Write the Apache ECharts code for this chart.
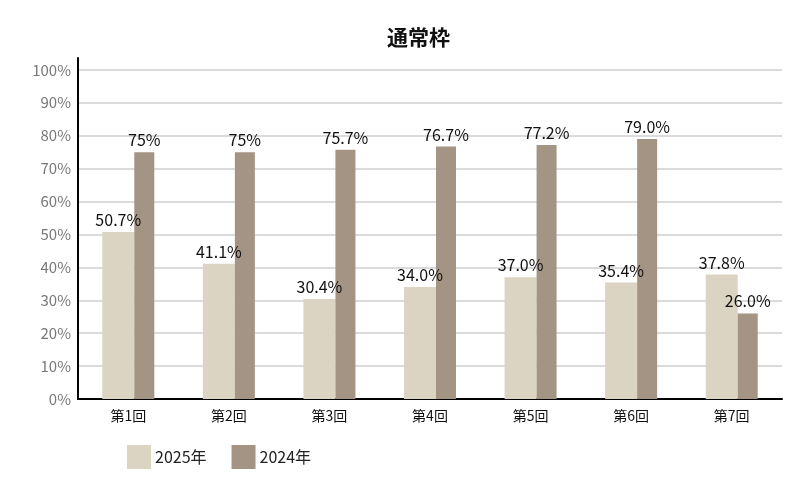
<!DOCTYPE html>
<html>
<head>
<meta charset="utf-8">
<script src="https://cdn.jsdelivr.net/npm/echarts@6/dist/echarts.min.js"></script>
<style>html,body{margin:0;padding:0;background:#fff;}#c{width:799px;height:500px;}</style>
</head>
<body>
<div id="c"></div>
<script>
const categories = ['第1回', '第2回', '第3回', '第4回', '第5回', '第6回', '第7回'];
const values2025 = [50.7, 41.1, 30.4, 34.0, 37.0, 35.4, 37.8];
const values2024 = [75, 75, 75.7, 76.7, 77.2, 79.0, 26.0];
const labels2025 = ['50.7%', '41.1%', '30.4%', '34.0%', '37.0%', '35.4%', '37.8%'];
const labels2024 = ['75%', '75%', '75.7%', '76.7%', '77.2%', '79.0%', '26.0%'];
const seriesNames = ['2025年', '2024年'];

const font = '"Noto Sans CJK JP", "Noto Sans", sans-serif';
const chart = echarts.init(document.getElementById('c'));
chart.setOption({
  animation: false,
  textStyle: { fontFamily: font },
  title: {
    text: '通常枠',
    left: 382,
    top: 22,
    textStyle: { fontSize: 21, fontWeight: 'bold', color: '#111', fontFamily: font }
  },
  legend: {
    left: 127,
    top: 445,
    padding: 0,
    itemWidth: 24,
    itemHeight: 24,
    itemGap: 25,
    icon: 'rect',
    textStyle: { fontSize: 16, color: '#222', fontFamily: font, padding: [0, 0, 0, -1] },
    data: seriesNames
  },
  grid: { left: 78, right: 17, top: 58, bottom: 101, containLabel: false },
  xAxis: {
    type: 'category',
    data: categories,
    axisLine: { lineStyle: { color: '#000', width: 2 } },
    axisTick: { show: false },
    axisLabel: { fontSize: 14, color: '#111', margin: 10 }
  },
  yAxis: {
    type: 'value',
    min: 0,
    max: 103.6,
    interval: 10,
    axisLine: { show: true, lineStyle: { color: '#000', width: 2 } },
    axisTick: { show: false },
    axisLabel: {
      fontSize: 15, color: '#777', margin: 7,
      formatter: v => (Math.abs(v % 10) < 1e-6 && v <= 100) ? v + '%' : ''
    },
    splitLine: { showMaxLine: false, lineStyle: { color: '#cfcfcf', width: 1.5 } }
  },
  series: [
    {
      name: seriesNames[0], type: 'bar', data: values2025, barWidth: 32, barGap: '0%',
      itemStyle: { color: '#dbd4c3' },
      label: { show: true, position: 'top', distance: 4, fontSize: 16, color: '#111',
        formatter: p => labels2025[p.dataIndex] }
    },
    {
      name: seriesNames[1], type: 'bar', data: values2024, barWidth: 20, barGap: '0%',
      itemStyle: { color: '#a39483' },
      label: { show: true, position: 'top', distance: 4, fontSize: 16, color: '#111',
        formatter: p => labels2024[p.dataIndex] }
    }
  ]
});
</script>
</body>
</html>
